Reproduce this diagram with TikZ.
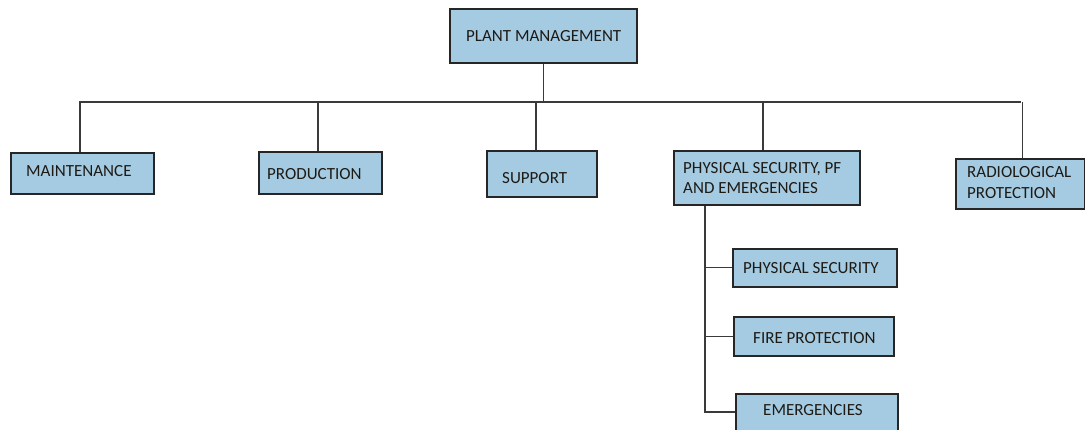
\documentclass[tikz,border=0pt]{standalone}
\usepackage{fontspec}
\setmainfont{Carlito}
\definecolor{boxfill}{HTML}{A5CBE3}
\definecolor{boxline}{HTML}{262626}
\definecolor{connline}{HTML}{3A3A3A}
\definecolor{txtcol}{HTML}{1E1A14}
\begin{document}
\begin{tikzpicture}[x=1pt,y=-1pt,
  box/.style={draw=boxline, fill=boxfill, line width=1.6pt, anchor=north west, inner sep=0pt},
  txt/.style={anchor=west, text=txtcol, font=\fontsize{17}{20.5}\selectfont, align=left, inner sep=0pt},
  conn/.style={draw=connline, line width=1.4pt}]
\clip (0,0) rectangle (1085,430);
\useasboundingbox (0,0) rectangle (1085,430);
\fill[white] (0,0) rectangle (1085,430);
% boxes
\node[box, minimum width=187pt, minimum height=54pt, label={[txt, xshift=17pt]west:PLANT MANAGEMENT}] (pm) at (449,8) {};
\node[box, minimum width=143pt, minimum height=41pt, label={[txt, xshift=16pt, yshift=2pt]west:MAINTENANCE}] (m) at (10,152) {};
\node[box, minimum width=123pt, minimum height=42pt, label={[txt, xshift=9pt, yshift=-1pt]west:PRODUCTION}] (p) at (258,151) {};
\node[box, minimum width=110pt, minimum height=46pt, label={[txt, xshift=16pt, yshift=-4pt]west:SUPPORT}] (s) at (486,150) {};
\node[box, minimum width=186pt, minimum height=54pt, label={[txt, xshift=10pt]west:PHYSICAL SECURITY, PF\\AND EMERGENCIES}] (ps) at (673,150) {};
\node[box, minimum width=129pt, minimum height=50pt, label={[txt, xshift=12pt, yshift=1.5pt]west:RADIOLOGICAL\\PROTECTION}] (r) at (955,158) {};
\node[box, minimum width=164pt, minimum height=38pt, label={[txt, xshift=11pt]west:PHYSICAL SECURITY}] (s1) at (732,248) {};
\node[box, minimum width=160pt, minimum height=39pt, label={[txt, xshift=20pt, yshift=-1.5pt]west:FIRE PROTECTION}] (s2) at (733,316) {};
\node[box, minimum width=162pt, minimum height=38pt, label={[txt, xshift=28pt, yshift=3pt]west:EMERGENCIES}] (s3) at (735,393) {};
% bus
\coordinate (busL) at (79,102);
\coordinate (busR) at (1021,102);
\coordinate (sub) at (705,412);
\draw[conn] (busL) -- (busR);
\draw[conn] (pm.south) -- (pm.south |- busL);
\draw[conn] ([xshift=-2.5pt]m.north) -- ([xshift=-2.5pt]m.north |- busL);
\draw[conn] ([xshift=-2.5pt]p.north) -- ([xshift=-2.5pt]p.north |- busL);
\draw[conn] ([xshift=-6pt]s.north) -- ([xshift=-6pt]s.north |- busL);
\draw[conn] ([xshift=-4pt]ps.north) -- ([xshift=-4pt]ps.north |- busL);
\draw[conn] ([xshift=2pt]r.north) -- ([xshift=2pt]r.north |- busL);
% sub branches
\draw[conn] (sub |- ps.south) -- (sub) -- (s3.west |- sub);
\draw[conn] (sub |- s1.west) -- (s1.west);
\draw[conn] (sub |- s2.west) -- (s2.west);
\end{tikzpicture}
\end{document}
